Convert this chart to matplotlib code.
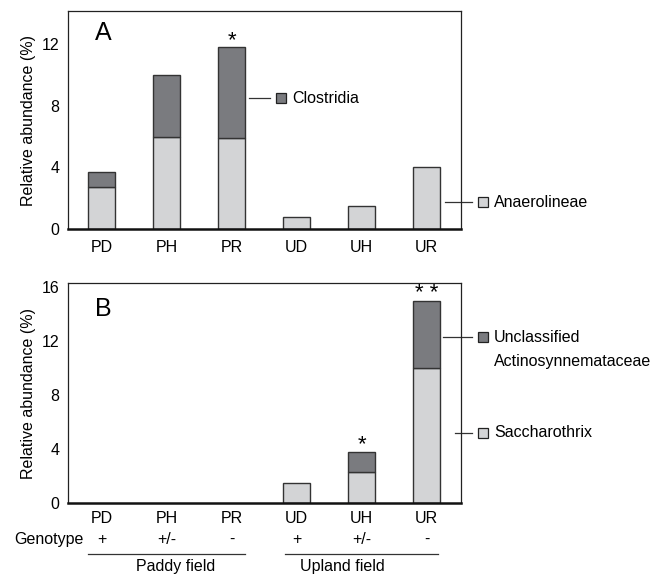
import matplotlib
matplotlib.use("Agg")
import matplotlib.pyplot as plt
import numpy as np
from matplotlib.transforms import blended_transform_factory

plt.rcParams['font.family'] = ['Liberation Sans', 'DejaVu Sans']

categories = ["PD", "PH", "PR", "UD", "UH", "UR"]
genotype = ["+", "+/-", "-", "+", "+/-", "-"]

# Panel A
anaerolineae = [2.7, 6.0, 5.9, 0.8, 1.5, 4.0]
clostridia = [1.0, 4.0, 5.9, 0.0, 0.0, 0.0]
stars_a = ["", "", "*", "", "", ""]

# Panel B
saccharothrix = [0.0, 0.0, 0.0, 1.5, 2.3, 10.0]
actinosynnem = [0.0, 0.0, 0.0, 0.0, 1.5, 5.0]
stars_b = ["", "", "", "", "*", "* *"]

light = "#d3d4d6"
dark = "#7a7b7f"
edge = "#333333"

fig = plt.figure(figsize=(6.68, 5.75), dpi=100)
axA = fig.add_axes([0.1018, 0.6017, 0.5883, 0.3792])
axB = fig.add_axes([0.1018, 0.1252, 0.5883, 0.3826])

x = np.arange(len(categories))
w = 0.42

def style(ax, ymax, ticks):
    ax.set_xlim(-0.52, 5.53)
    ax.set_ylim(0, ymax)
    ax.set_yticks(ticks)
    ax.set_yticklabels([str(t) for t in ticks], fontsize=11.5)
    ax.tick_params(axis='both', length=0, pad=6)
    for s in ['left', 'top', 'right']:
        ax.spines[s].set_linewidth(0.9)
        ax.spines[s].set_color("#222222")
    ax.spines['bottom'].set_linewidth(1.8)
    ax.spines['bottom'].set_color("#111111")
    ax.set_ylabel("Relative abundance (%)", fontsize=11.5, labelpad=4)

def stacked(ax, low, high, stars, off):
    low = np.array(low)
    high = np.array(high)
    m = low > 0
    ax.bar(x[m], low[m], width=w, color=light, edgecolor=edge, linewidth=1.0, zorder=2)
    m2 = high > 0
    ax.bar(x[m2], high[m2], width=w, bottom=low[m2], color=dark, edgecolor=edge, linewidth=1.0, zorder=2)
    tot = low + high
    for xi, t, s in zip(x, tot, stars):
        if s:
            ax.text(xi, t + off, s, ha='center', va='center', fontsize=16)

def legend_item(ax, x0, x1, y, color, label, extra=None):
    tr = blended_transform_factory(ax.transAxes, ax.transData)
    ax.plot([x0, x1], [y, y], transform=tr, color="#333333", lw=0.9, clip_on=False)
    ax.plot([x1 + 0.027], [y], marker='s', markersize=7.5, markerfacecolor=color,
            markeredgecolor="#222222", markeredgewidth=0.9, transform=tr, clip_on=False)
    ax.text(x1 + 0.056, y, label, transform=tr, ha='left', va='center', fontsize=11.5)
    if extra:
        ax.annotate(extra, xy=(x1 + 0.056, y), xycoords=tr, xytext=(0, -24),
                    textcoords='offset pixels', ha='left', va='center', fontsize=11.5)

# Panel A
stacked(axA, anaerolineae, clostridia, stars_a, 0.45)
style(axA, 14.15, [0, 4, 8, 12])
axA.set_xticks(x)
axA.set_xticklabels(categories, fontsize=11.5)
axA.tick_params(axis='x', pad=8)
axA.text(0.068, 0.899, "A", transform=axA.transAxes, fontsize=18, ha='left', va='center')
legend_item(axA, 0.461, 0.514, 8.5, dark, "Clostridia")
legend_item(axA, 0.959, 1.028, 1.75, light, "Anaerolineae")

# Panel B
stacked(axB, saccharothrix, actinosynnem, stars_b, 0.55)
style(axB, 16.3, [0, 4, 8, 12, 16])
axB.set_xticks(x)
axB.set_xticklabels(categories, fontsize=11.5)
axB.tick_params(axis='x', pad=6)
axB.text(0.068, 0.88, "B", transform=axB.transAxes, fontsize=18, ha='left', va='center')
legend_item(axB, 0.954, 1.028, 12.3, dark, "Unclassified", "Actinosynnemataceae")
legend_item(axB, 0.985, 1.028, 5.2, light, "Saccharothrix")

tB = blended_transform_factory(axB.transData, axB.transAxes)
for xi, g in zip(x, genotype):
    axB.text(xi, -0.166, g, transform=tB, ha='center', va='center', fontsize=11.5)
axB.text(0.04, -0.166, "Genotype", transform=axB.transAxes, ha='right', va='center', fontsize=11.5)
axB.plot([0.051, 0.450], [-0.232, -0.232], transform=axB.transAxes, color="#333333", lw=0.9, clip_on=False)
axB.plot([0.552, 0.941], [-0.232, -0.232], transform=axB.transAxes, color="#333333", lw=0.9, clip_on=False)
axB.text(0.275, -0.288, "Paddy field", transform=axB.transAxes, ha='center', va='center', fontsize=11.5)
axB.text(0.697, -0.288, "Upland field", transform=axB.transAxes, ha='center', va='center', fontsize=11.5)

fig.savefig("out.png", dpi=100)
